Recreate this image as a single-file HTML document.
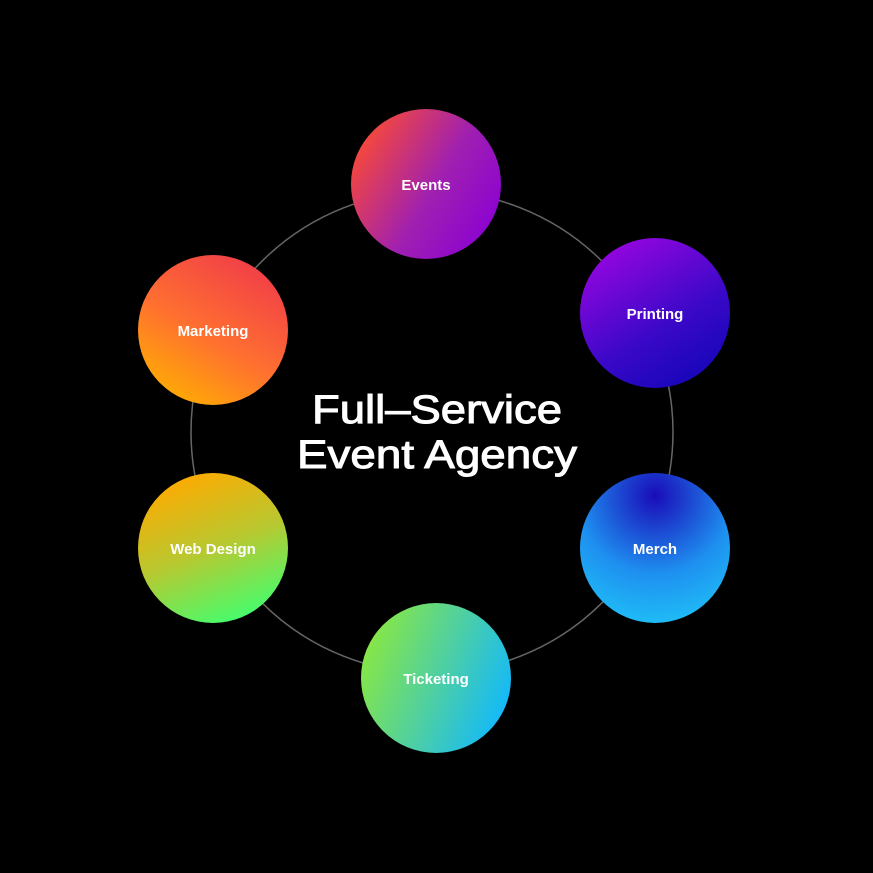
<!DOCTYPE html>
<html><head><meta charset="utf-8"><style>
html,body{margin:0;padding:0;background:#000;}
svg{display:block}
text{font-family:"Liberation Sans",sans-serif;fill:#fff;}
</style></head><body>
<svg width="873" height="873" viewBox="0 0 873 873">
<defs>
<linearGradient id="g1" x1="0" y1="0.2" x2="1" y2="0.8"><stop offset="0" stop-color="#ff4d2e"/><stop offset="0.55" stop-color="#a020b0"/><stop offset="1" stop-color="#8a00d4"/></linearGradient>
<linearGradient id="g2" x1="0.2" y1="0" x2="0.8" y2="1"><stop offset="0" stop-color="#9a06e0"/><stop offset="0.6" stop-color="#3a08c8"/><stop offset="1" stop-color="#1206b8"/></linearGradient>
<radialGradient id="g3" cx="0.5" cy="0.15" r="0.95"><stop offset="0" stop-color="#1a0cb8"/><stop offset="0.55" stop-color="#1e90f0"/><stop offset="1" stop-color="#20c8f8"/></radialGradient>
<linearGradient id="g4" x1="0" y1="0.3" x2="1" y2="0.7"><stop offset="0" stop-color="#8ae840"/><stop offset="0.5" stop-color="#50d0a0"/><stop offset="1" stop-color="#10b8ff"/></linearGradient>
<linearGradient id="g5" x1="0.3" y1="0" x2="0.7" y2="1"><stop offset="0" stop-color="#ffaa00"/><stop offset="0.5" stop-color="#b8c830"/><stop offset="1" stop-color="#40ff70"/></linearGradient>
<linearGradient id="g6" x1="0.2" y1="1" x2="0.8" y2="0"><stop offset="0" stop-color="#ffb000"/><stop offset="0.45" stop-color="#ff7030"/><stop offset="1" stop-color="#f03a4a"/></linearGradient>
</defs>
<rect width="873" height="873" fill="#000"/>
<circle cx="432" cy="432" r="241" fill="none" stroke="#666" stroke-width="1.5"/>
<circle cx="426" cy="184" r="75" fill="url(#g1)"/>
<circle cx="655" cy="313" r="75" fill="url(#g2)"/>
<circle cx="655" cy="548" r="75" fill="url(#g3)"/>
<circle cx="436" cy="678" r="75" fill="url(#g4)"/>
<circle cx="213" cy="548" r="75" fill="url(#g5)"/>
<circle cx="213" cy="330" r="75" fill="url(#g6)"/>
<g font-size="15" font-weight="bold" text-anchor="middle">
<text x="426" y="190">Events</text>
<text x="655" y="319">Printing</text>
<text x="655" y="554">Merch</text>
<text x="436" y="684">Ticketing</text>
<text x="213" y="554">Web Design</text>
<text x="213" y="336">Marketing</text>
</g>
<g font-size="40" text-anchor="middle" stroke="#fff" stroke-width="1">
<text x="437" y="423" textLength="250" lengthAdjust="spacingAndGlyphs">Full–Service</text>
<text x="437" y="468" textLength="280" lengthAdjust="spacingAndGlyphs">Event Agency</text>
</g>
</svg>
</body></html>
